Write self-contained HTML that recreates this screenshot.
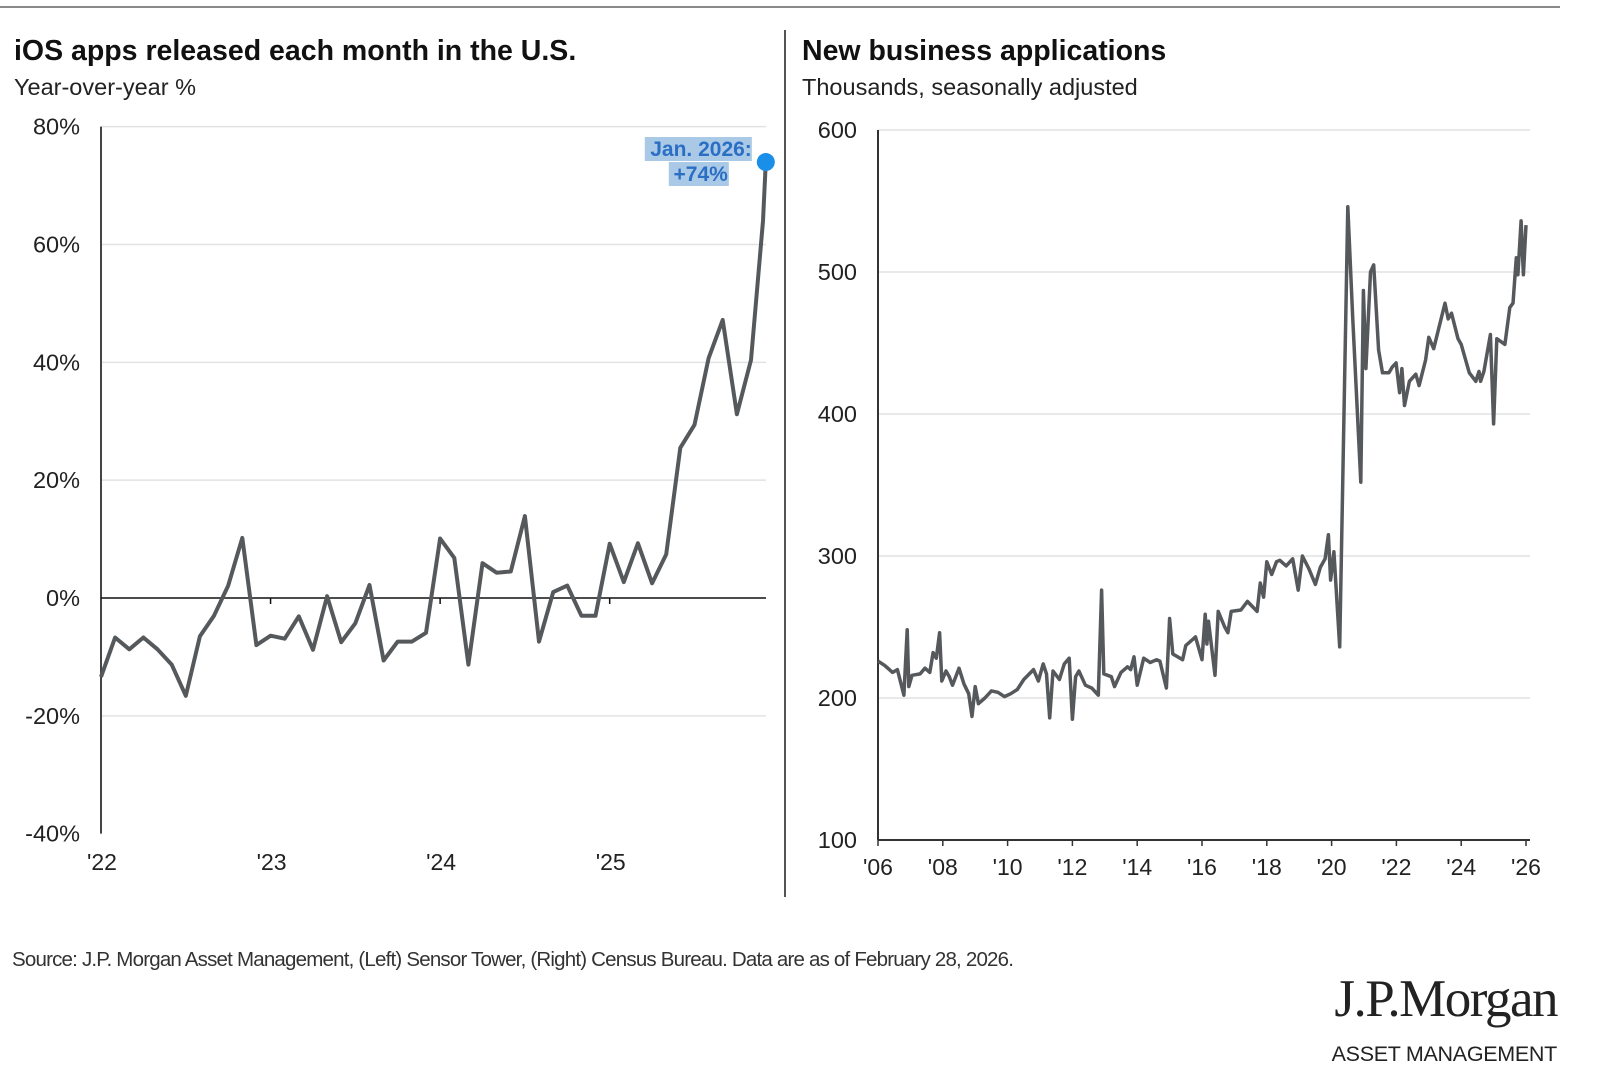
<!DOCTYPE html>
<html><head><meta charset="utf-8"><style>
html,body{margin:0;padding:0;background:#fff;}
svg{display:block;font-family:"Liberation Sans",Arial,sans-serif;}
</style></head><body>
<svg id="root" width="1600" height="1088" viewBox="0 0 1600 1088" xmlns="http://www.w3.org/2000/svg">
<line x1="0" y1="7" x2="1560" y2="7" stroke="#8a8a8a" stroke-width="2"/>
<line x1="785" y1="30" x2="785" y2="897" stroke="#555" stroke-width="2"/>
<text x="14" y="60" font-size="28.5" font-weight="bold" fill="#111">iOS apps released each month in the U.S.</text>
<text x="14" y="95" font-size="23.5" fill="#222">Year-over-year %</text>
<text x="802" y="60" font-size="28.5" font-weight="bold" fill="#111">New business applications</text>
<text x="802" y="95" font-size="23.5" fill="#222">Thousands, seasonally adjusted</text>
<g id="left"></g>
<g id="right"></g>
<text x="12" y="966" font-size="20.5" fill="#333" letter-spacing="-0.8">Source: J.P. Morgan Asset Management, (Left) Sensor Tower, (Right) Census Bureau. Data are as of February 28, 2026.</text>
<text x="1557" y="1016" text-anchor="end" font-family="'Liberation Serif',serif" font-size="53" fill="#222" letter-spacing="-1.5">J.P.Morgan</text>
<text x="1557" y="1061" text-anchor="end" font-size="21.5" fill="#222" letter-spacing="-0.3">ASSET MANAGEMENT</text>
</svg>
<script>
const NS='http://www.w3.org/2000/svg';
// Left chart data
const iosMonths=[0,1,2,3,4,5,6,7,8,9,10,11,12,13,14,15,16,17,18,19,20,21,22,23,24,25,26,27,28,29,30,31,32,33,34,35,36,37,38,39,40,41,42,43,44,45,46,46.85,47.05];
const iosValues=[-13.4,-6.7,-8.7,-6.7,-8.7,-11.3,-16.6,-6.5,-3,2.1,10.2,-8,-6.4,-6.9,-3.1,-8.8,0.3,-7.5,-4.3,2.2,-10.6,-7.4,-7.4,-5.9,10.1,6.8,-11.3,5.9,4.3,4.5,13.9,-7.4,1,2.1,-3,-3,9.2,2.7,9.3,2.5,7.4,25.5,29.4,40.7,47.2,31.2,40.4,64,74];
const iosTicks=[80,60,40,20,0,-20,-40];
const iosTickLabels=['80%','60%','40%','20%','0%','-20%','-40%'];
const iosYearTicks=[0,12,24,36];
const iosYearLabels=["'22","'23","'24","'25"];
// Right chart data
const bizYears=[2006.0,2006.2,2006.45,2006.6,2006.8,2006.9,2006.95,2007.05,2007.3,2007.45,2007.6,2007.7,2007.8,2007.9,2007.97,2008.1,2008.2,2008.3,2008.5,2008.65,2008.8,2008.9,2009.0,2009.1,2009.3,2009.5,2009.7,2009.9,2010.1,2010.3,2010.5,2010.8,2010.95,2011.1,2011.2,2011.3,2011.4,2011.6,2011.75,2011.9,2012.0,2012.1,2012.2,2012.4,2012.6,2012.8,2012.9,2012.97,2013.2,2013.3,2013.5,2013.7,2013.8,2013.9,2014.0,2014.2,2014.4,2014.6,2014.7,2014.9,2015.0,2015.1,2015.4,2015.5,2015.8,2016.0,2016.1,2016.15,2016.2,2016.4,2016.5,2016.7,2016.8,2016.9,2017.2,2017.4,2017.7,2017.8,2017.9,2018.0,2018.15,2018.3,2018.4,2018.6,2018.8,2018.97,2019.1,2019.3,2019.5,2019.65,2019.8,2019.9,2019.97,2020.07,2020.25,2020.5,2020.65,2020.9,2020.98,2021.06,2021.2,2021.3,2021.45,2021.57,2021.77,2021.87,2021.99,2022.1,2022.17,2022.25,2022.4,2022.6,2022.7,2022.9,2023.0,2023.15,2023.5,2023.6,2023.7,2023.9,2024.0,2024.25,2024.45,2024.55,2024.6,2024.7,2024.9,2025.0,2025.1,2025.35,2025.5,2025.6,2025.7,2025.75,2025.85,2025.92,2026.0];
const bizValues=[226,223,218,220,202,248,208,216,217,221,218,232,228,246,212,219,215,209,221,210,203,187,208,196,200,205,204,201,203,206,213,220,212,224,217,186,219,213,224,228,185,215,219,209,207,202,276,217,215,208,218,222,220,229,209,228,225,227,226,207,256,231,227,237,243,227,259,238,254,216,261,250,246,261,262,268,261,281,271,296,287,296,297,293,298,276,300,291,280,292,298,315,283,303,236,546,468,352,487,432,500,505,445,429,429,433,436,415,432,406,423,428,420,438,454,446,478,467,471,453,449,429,423,430,423,430,456,393,453,449,475,478,510,498,536,498,533];
const bizTicks=[600,500,400,300,200,100];
const bizYearTicks=[2006,2008,2010,2012,2014,2016,2018,2020,2022,2024,2026];
const bizYearLabels=["'06","'08","'10","'12","'14","'16","'18","'20","'22","'24","'26"];

function mk(parent,tag,attrs,text){const e=document.createElementNS(NS,tag);for(const k in attrs)e.setAttribute(k,attrs[k]);if(text!==undefined)e.textContent=text;parent.appendChild(e);return e;}

// ---- Left chart ----
const L=document.getElementById('left');
const lx=m=>101+m*14.13;
const ly=v=>598-v*5.8917;
iosTicks.forEach((t,i)=>{
  if(t!==0&&t!==-40){const g=mk(L,'line',{x1:101,x2:766,y1:ly(t),y2:ly(t),stroke:'#e2e2e2','stroke-width':1.5});
  
  }
  const tx=mk(L,'text',{x:80,y:ly(t)+8,'text-anchor':'end','font-size':23.5,fill:'#222'},iosTickLabels[i]);
  
  
});
const lax=mk(L,'line',{x1:101,x2:101,y1:ly(80),y2:ly(-40),stroke:'#444','stroke-width':2});


const zl=mk(L,'line',{x1:101,x2:766,y1:ly(0),y2:ly(0),stroke:'#111','stroke-width':1.5});


iosYearTicks.forEach((m,i)=>{
  if(i>0){const tk=mk(L,'line',{x1:lx(m),x2:lx(m),y1:ly(0),y2:ly(0)+6,stroke:'#111','stroke-width':1.5});
  
  }
  const tx=mk(L,'text',{x:lx(m)+1,y:870,'text-anchor':'middle','font-size':23,fill:'#222'},iosYearLabels[i]);
  
  
});
const lp=mk(L,'polyline',{points:iosMonths.map((m,i)=>lx(m).toFixed(1)+','+ly(iosValues[i]).toFixed(1)).join(' '),fill:'none',stroke:'#56595c','stroke-width':4,'stroke-linejoin':'round'});


const lastI=iosValues.length-1;
const ax=lx(iosMonths[lastI]), ay=ly(iosValues[lastI]);
const b1=mk(L,'rect',{x:ax-121,y:ay-25,width:107,height:24,fill:'#a9c9e6'});


const b2=mk(L,'rect',{x:ax-97,y:ay,width:60,height:24,fill:'#a9c9e6'});


const a1=mk(L,'text',{x:ax-14,y:ay-6,'text-anchor':'end','font-size':21,'font-weight':'bold',fill:'#2b6fc4'},'Jan. 2026:');


const a2=mk(L,'text',{x:ax-38,y:ay+19,'text-anchor':'end','font-size':21,'font-weight':'bold',fill:'#2b6fc4'},'+'+iosValues[lastI]+'%');


const dot=mk(L,'circle',{cx:ax,cy:ay,r:9,fill:'#1a8fea'});



// ---- Right chart ----
const R=document.getElementById('right');
const rx=y=>878+(y-2006)*32.4;
const ry=v=>130+(600-v)*1.42;
bizTicks.forEach(t=>{
  if(t!==100){const g=mk(R,'line',{x1:878,x2:1530,y1:ry(t),y2:ry(t),stroke:'#e2e2e2','stroke-width':1.5});
  
  }
  const tx=mk(R,'text',{x:857,y:ry(t)+8,'text-anchor':'end','font-size':23.5,fill:'#222'},String(t));
  
  
});
const ryax=mk(R,'line',{x1:878,x2:878,y1:ry(600),y2:ry(100),stroke:'#333','stroke-width':2});


const rxax=mk(R,'line',{x1:878,x2:1530,y1:ry(100),y2:ry(100),stroke:'#333','stroke-width':2});


bizYearTicks.forEach((y,i)=>{
  const tk=mk(R,'line',{x1:rx(y),x2:rx(y),y1:ry(100),y2:ry(100)+6,stroke:'#333','stroke-width':1.5});
  
  
  const tx=mk(R,'text',{x:rx(y),y:875,'text-anchor':'middle','font-size':23,fill:'#222'},bizYearLabels[i]);
  
  
});
const rp=mk(R,'polyline',{points:bizYears.map((y,i)=>rx(y).toFixed(1)+','+ry(bizValues[i]).toFixed(1)).join(' '),fill:'none',stroke:'#56595c','stroke-width':3.5,'stroke-linejoin':'round'});


</script>
</body></html>
